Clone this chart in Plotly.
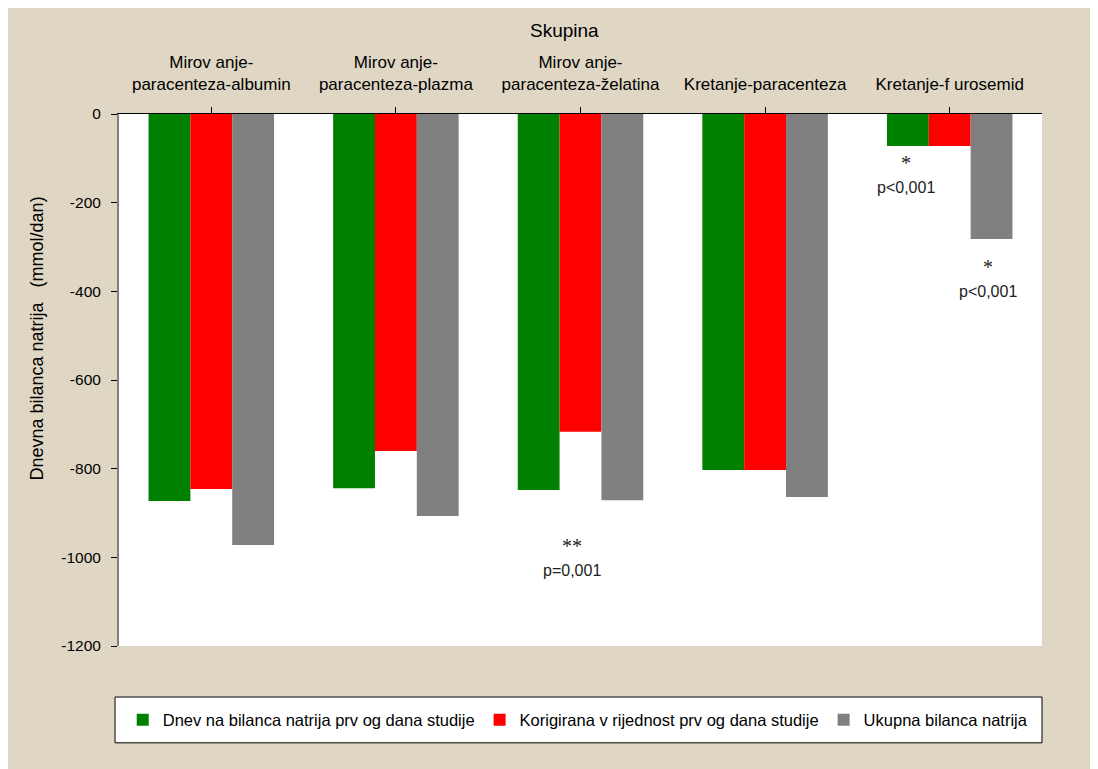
import plotly.graph_objects as go

categories = ["Mirov anje-<br>paracenteza-albumin", "Mirov anje-<br>paracenteza-plazma",
              "Mirov anje-<br>paracenteza-želatina", "Kretanje-paracenteza", "Kretanje-f urosemid"]
series_names = ["Dnev na bilanca natrija prv og dana studije",
                "Korigirana v rijednost prv og dana studije",
                "Ukupna bilanca natrija"]
dnevna = [-873, -844, -848, -803, -72]
korigirana = [-846, -760, -717, -803, -72]
ukupna = [-972, -907, -871, -864, -282]
colors = ["#008000", "#ff0000", "#808080"]
y_ticks = [0, -200, -400, -600, -800, -1000, -1200]
y_tick_labels = ["0", "-200", "-400", "-600", "-800", "-1000", "-1200"]

# significance labels: (category position, value, text, kind)
sig_labels = [
    (2, -975, "**", "star"), (2, -1030, "p=0,001", "text"),
    (4 - 0.222, -110, "*", "star"), (4 - 0.222, -165, "p<0,001", "text"),
    (4 + 0.222, -345, "*", "star"), (4 + 0.222, -400, "p<0,001", "text"),
]

BG = "#dfd7c4"
FONT = "Liberation Sans, Arial, sans-serif"

fig = go.Figure()
for name, vals, c in zip(series_names, [dnevna, korigirana, ukupna], colors):
    fig.add_trace(go.Bar(x=list(range(len(categories))), y=vals, name=name,
                         marker=dict(color=c, line=dict(width=0))))

for x, y, t, kind in sig_labels:
    fig.add_annotation(x=x, y=y, xref="x", yref="y", text=t, showarrow=False,
                       xshift=-9 if x == 2 else -3,
                       font=dict(family="Liberation Serif, Times New Roman, serif" if kind == "star" else FONT,
                                 size=20 if kind == "star" else 16, color="#222"))

fig.add_annotation(x=0.483, y=1, xref="paper", yref="paper", yshift=84, text="Skupina",
                   showarrow=False, yanchor="middle", font=dict(size=19, family=FONT, color="black"))

fig.add_annotation(x=0, y=0.578, xref="paper", yref="paper", xshift=-82, textangle=-90,
                   text="Dnevna bilanca natrija &nbsp;&nbsp;(mmol/dan)", showarrow=False,
                   xanchor="center", yanchor="middle", font=dict(size=18, family=FONT, color="black"))

# legend frame
fig.add_shape(type="rect", xref="paper", yref="paper", x0=-0.0043, x1=1.0, y0=-0.182, y1=-0.0959,
              fillcolor="white", line=dict(color="black", width=1), layer="below")

fig.update_layout(
    width=1090, height=761,
    paper_bgcolor=BG, plot_bgcolor="white",
    margin=dict(l=111, r=56, t=106, b=123),
    barmode="group", bargap=0.32, bargroupgap=0,
    font=dict(family=FONT, size=14, color="black"),
    xaxis=dict(side="top", tickmode="array", tickvals=list(range(len(categories))),
               ticktext=categories, range=[-0.5, 4.5], tickson="boundaries",
               ticks="outside", ticklen=6, tickcolor="black", ticklabelstandoff=10,
               showline=True, linecolor="black", linewidth=1, showgrid=False,
               tickfont=dict(size=17)),
    yaxis=dict(range=[-1200, 0], tickmode="array", tickvals=y_ticks, ticktext=y_tick_labels,
               ticks="outside", ticklen=6, tickcolor="black", ticklabelstandoff=7,
               showline=True, linecolor="#808080",
               linewidth=2, showgrid=False, zeroline=False, tickfont=dict(size=15.5)),
    legend=dict(orientation="h", x=0.497, xanchor="center", y=-0.139, yanchor="middle",
                bgcolor="rgba(0,0,0,0)", borderwidth=0,
                font=dict(size=16.5), itemwidth=30, traceorder="normal"),
    showlegend=True,
)
fig.write_html("out.html")
